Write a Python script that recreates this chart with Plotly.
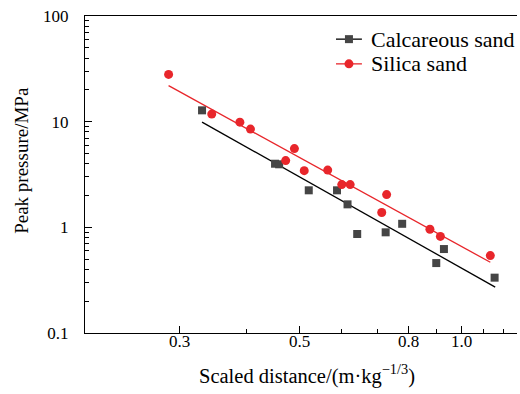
import plotly.graph_objects as go
import math

# Data (log-log)
calc_x = [0.330, 0.451, 0.459, 0.521, 0.588, 0.615, 0.641, 0.724, 0.777, 0.899, 0.929, 1.154]
calc_y = [12.8, 4.0, 3.95, 2.24, 2.24, 1.65, 0.865, 0.897, 1.08, 0.459, 0.623, 0.334]

sil_x = [0.286, 0.344, 0.388, 0.406, 0.472, 0.490, 0.511, 0.565, 0.600, 0.622, 0.712, 0.727, 0.875, 0.915, 1.133]
sil_y = [28.0, 11.8, 9.9, 8.5, 4.28, 5.56, 3.44, 3.48, 2.54, 2.54, 1.38, 2.04, 0.96, 0.82, 0.54]

calc_fit_x = [0.330, 1.157]
calc_fit_y = [9.9, 0.272]
sil_fit_x = [0.286, 1.133]
sil_fit_y = [21.9, 0.467]

series_names = ["Calcareous sand", "Silica sand"]

x_major = [0.3, 0.5, 0.8, 1.0]
x_major_text = ["0.3", "0.5", "0.8", "1.0"]
x_minor = [0.2, 0.4, 0.6, 0.7, 0.9, 1.1, 1.2]
y_major = [0.1, 1, 10, 100]
y_major_text = ["0.1", "1", "10", "100"]
y_minor = [m * d for d in (0.1, 1, 10) for m in range(2, 10)]

BLACK = "#000000"
GRAY = "#454545"
RED = "#e8262b"
FONT = "Times New Roman, Liberation Serif, serif"

fig = go.Figure()
fig.add_trace(go.Scatter(x=calc_fit_x, y=calc_fit_y, mode="lines",
                         line=dict(color=BLACK, width=1.3), showlegend=False))
fig.add_trace(go.Scatter(x=sil_fit_x, y=sil_fit_y, mode="lines",
                         line=dict(color=RED, width=1.3), showlegend=False))
fig.add_trace(go.Scatter(x=calc_x, y=calc_y, mode="markers", name=series_names[0],
                         marker=dict(symbol="square", size=8, color=GRAY),
                         showlegend=False))
fig.add_trace(go.Scatter(x=sil_x, y=sil_y, mode="markers", name=series_names[1],
                         marker=dict(symbol="circle", size=9, color=RED),
                         showlegend=False))

# Manual legend (paper coordinates)
shapes = []
annotations = []
leg_rows = [(0.927, BLACK, GRAY, "rect", 4), (0.849, RED, RED, "circle", 4.5)]
for (yy, lc, mc, mshape, half), name in zip(leg_rows, series_names):
    shapes.append(dict(type="line", xref="paper", yref="paper",
                       x0=0.581, x1=0.641, y0=yy, y1=yy,
                       line=dict(color=lc, width=1.3)))
    shapes.append(dict(type=mshape, xref="paper", yref="paper",
                       xsizemode="pixel", ysizemode="pixel",
                       xanchor=0.611, yanchor=yy,
                       x0=-half, x1=half, y0=-half, y1=half,
                       fillcolor=mc, line=dict(color=mc, width=0)))
    annotations.append(dict(text=name, xref="paper", yref="paper",
                            x=0.6574, y=yy, xanchor="left", yanchor="middle",
                            showarrow=False, font=dict(size=22, family=FONT)))

# x tick labels as annotations (to place them close to the axis like the reference)
for v, t in zip(x_major, x_major_text):
    annotations.append(dict(text=t, xref="x", yref="paper", x=math.log10(v), y=-0.027,
                            xanchor="center", yanchor="middle", showarrow=False,
                            font=dict(size=17, family=FONT)))

annotations += [
    dict(text="Scaled distance/(m·kg<sup>−1/3</sup>)", xref="paper", yref="paper",
         x=0.515, y=-0.13, xanchor="center", yanchor="middle", showarrow=False,
         font=dict(size=20.5, family=FONT)),
    dict(text="Peak pressure/MPa", xref="paper", yref="paper",
         x=-0.146, y=0.546, xanchor="center", yanchor="middle", showarrow=False,
         textangle=-90, font=dict(size=19, family=FONT)),
]

fig.update_layout(
    width=520, height=394,
    margin=dict(l=85, r=3, t=16, b=61),
    paper_bgcolor="white", plot_bgcolor="white",
    font=dict(family=FONT, color="black", size=17),
    showlegend=False,
    xaxis=dict(type="log", range=[math.log10(0.2), math.log10(1.27)],
               showgrid=False, zeroline=False,
               showline=True, linecolor="black", linewidth=1.3, mirror=True,
               ticks="inside", ticklen=7, tickwidth=1.2, tickcolor="black",
               tickmode="array", tickvals=x_major, ticktext=x_major_text,
               showticklabels=False,
               minor=dict(ticks="inside", ticklen=4, tickwidth=1.2, tickcolor="black",
                          tickmode="array", tickvals=x_minor, showgrid=False)),
    yaxis=dict(type="log", range=[-1, 2],
               showgrid=False, zeroline=False,
               showline=True, linecolor="black", linewidth=1.3, mirror=False,
               ticks="inside", ticklen=7, tickwidth=1.2, tickcolor="black",
               tickmode="array", tickvals=y_major, ticktext=y_major_text,
               tickfont=dict(size=17, family=FONT), ticklabelstandoff=12,
               minor=dict(ticks="inside", ticklen=4, tickwidth=1.2, tickcolor="black",
                          tickmode="array", tickvals=y_minor, showgrid=False)),
    shapes=shapes,
    annotations=annotations,
)

fig.write_html("out.html")
